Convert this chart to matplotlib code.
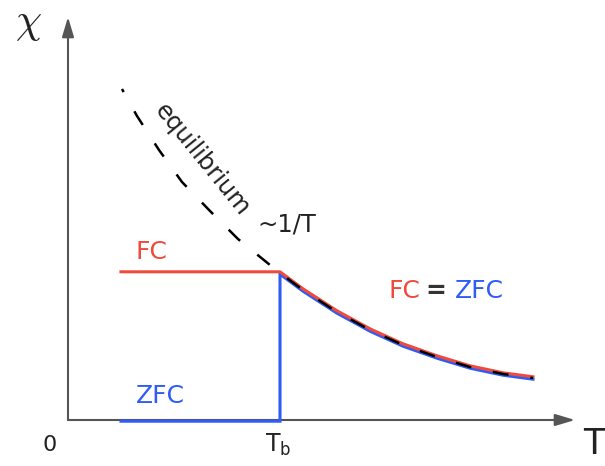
import matplotlib
matplotlib.use('Agg')
import matplotlib.pyplot as plt
import matplotlib.transforms as mtransforms

RED = '#ef4a3c'
BLUE = '#2f5cf6'
AXIS = '#555555'
INK = '#222222'

# equilibrium susceptibility ~1/T (arbitrary units)
T_eq = [0.54, 0.69, 0.91, 1.14, 1.43, 1.70, 2.02, 2.12, 2.35, 2.69, 3.02, 3.35, 3.69, 4.02, 4.35, 4.65]
chi_eq = [3.31, 3.04, 2.70, 2.38, 2.08, 1.81, 1.55, 1.47, 1.30, 1.08, 0.90, 0.75, 0.63, 0.53, 0.46, 0.42]

T_start = 0.53
T_b = 2.12
chi_fc = 1.47
i_b = T_eq.index(T_b)

fig = plt.figure(figsize=(6.05, 4.66), dpi=100)
ax = fig.add_axes([0, 0, 1, 1])
ax.set_xlim(-0.68, 5.37)
ax.set_ylim(-0.46, 4.20)
ax.axis('off')

# axes with arrows
arrow_kw = dict(arrowstyle='-|>,head_length=0.6,head_width=0.18', color=AXIS, lw=1.5,
                mutation_scale=20, shrinkA=0, shrinkB=0)
ax.annotate('', xy=(0, 4.03), xytext=(0, 0), arrowprops=arrow_kw)
ax.annotate('', xy=(5.07, 0), xytext=(0, 0), arrowprops=arrow_kw)

up = mtransforms.offset_copy(ax.transData, fig=fig, x=0, y=1.2, units='dots')
down = mtransforms.offset_copy(ax.transData, fig=fig, x=0, y=-1.2, units='dots')

# ZFC
ax.plot([T_start, T_b, T_b] + T_eq[i_b:], [0, 0, chi_fc] + chi_eq[i_b:],
        color=BLUE, lw=2.2, transform=down, zorder=3, solid_joinstyle='miter')
# FC
ax.plot([T_start] + T_eq[i_b:], [chi_fc] + chi_eq[i_b:],
        color=RED, lw=2.2, transform=up, zorder=4)
# equilibrium
ax.plot(T_eq, chi_eq, color='black', lw=1.8, ls=(5.0, (6.4, 8.8)), zorder=5)

ax.text(-0.40, 3.98, r'$\chi$', fontsize=30, ha='center', va='center', color=INK,
        math_fontfamily='cm')
ax.text(-0.18, -0.25, '0', fontsize=16, ha='center', va='center', color=INK)
ax.text(5.26, -0.24, 'T', fontsize=25, ha='center', va='center', color=INK)
ax.text(2.10, -0.25, r'T$_{\mathregular{b}}$', fontsize=17, ha='center', va='center', color=INK)

ax.text(0.83, 1.68, 'FC', fontsize=18, color=RED, ha='center', va='center')
ax.text(0.92, 0.24, 'ZFC', fontsize=18, color=BLUE, ha='center', va='center')
ax.text(3.36, 1.29, 'FC', fontsize=18, color=RED, ha='center', va='center')
ax.text(3.68, 1.29, '=', fontsize=18, color='#333333', fontweight='bold', ha='center', va='center')
ax.text(4.11, 1.29, 'ZFC', fontsize=18, color=BLUE, ha='center', va='center')

ax.text(1.34, 2.60, 'equilibrium', fontsize=17.5, rotation=-51, rotation_mode='anchor',
        ha='center', va='center', color=INK)
ax.text(2.19, 1.96, '~1/T', fontsize=17.5, ha='center', va='center', color=INK)

fig.savefig('out.png', dpi=100, facecolor='white')
